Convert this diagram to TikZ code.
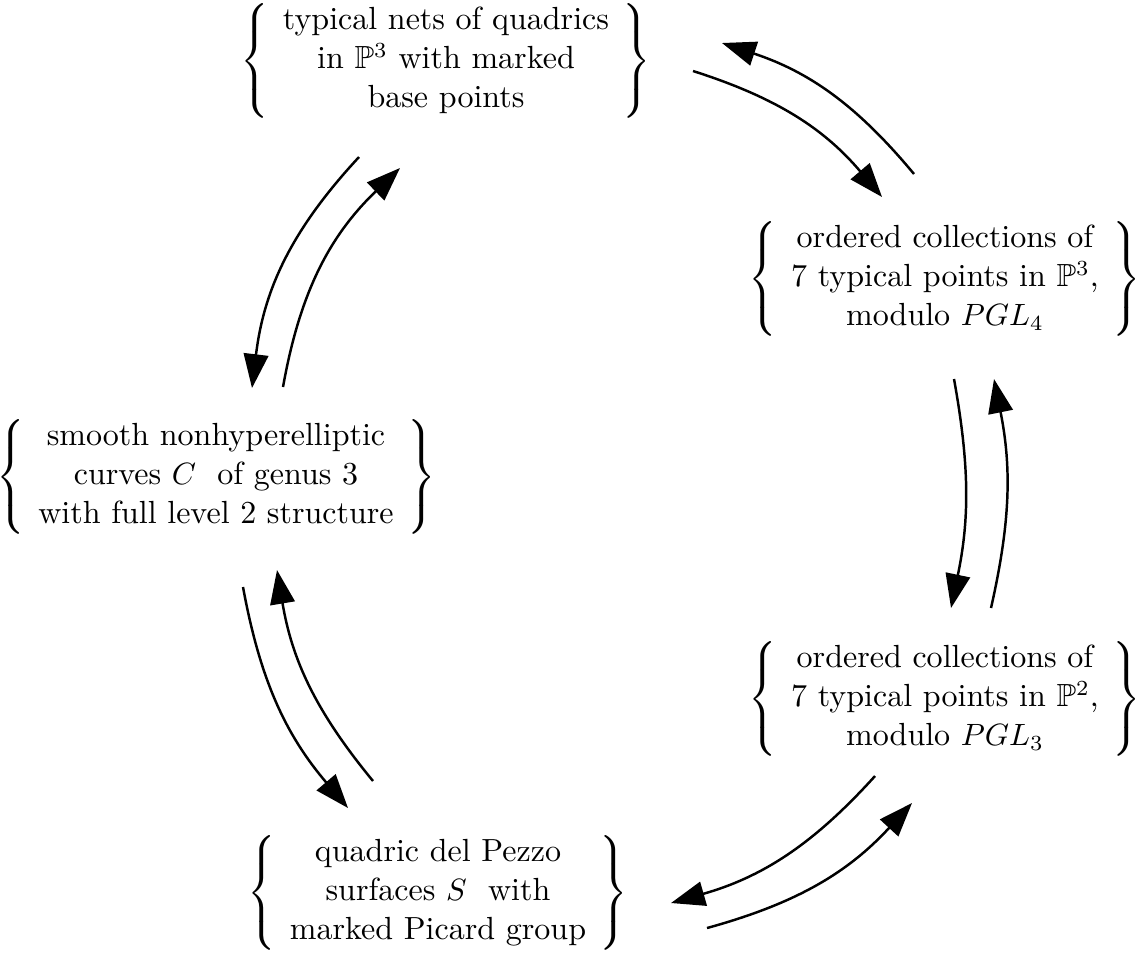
\documentclass[tikz,border=0pt]{standalone}
\usepackage{amssymb}
\usetikzlibrary{arrows.meta}

\setlength{\tabcolsep}{4.5pt}
\newcommand{\menge}[1]{$\left\{\begin{tabular}{c}#1\end{tabular}\right\}$}

\begin{document}
\begin{tikzpicture}[x=0.011416cm, y=0.011416cm, line width=0.8pt,
    every node/.style={inner sep=0pt, font=\fontsize{10.4pt}{12.6pt}\selectfont},
    pfeil/.style={-{Triangle[length=11pt,width=8pt]}}]
    \useasboundingbox (0,0) rectangle (1136,-955);

    % Mengen
    \node (nets) at (446,-61) {\menge{typical nets of quadrics\\ in $\mathbb{P}^3$ with marked\\ base points}};
    \node (pts3) at (945,-279) {\menge{ordered collections of\\ 7 typical points in $\mathbb{P}^3$,\\ modulo $PGL_4$}};
    \node (curves) at (216,-477) {\menge{smooth nonhyperelliptic\\ curves $C$ \ of genus 3\\ with full level 2 structure}};
    \node (pts2) at (945,-699) {\menge{ordered collections of\\ 7 typical points in $\mathbb{P}^2$,\\ modulo $PGL_3$}};
    \node (dp) at (438,-893) {\menge{quadric del Pezzo\\ surfaces $S$ \ with\\ marked Picard group}};

    % Endpunkte der Pfeile
    \coordinate (a1) at (359,-157); \coordinate (a2) at (252,-388);
    \coordinate (b1) at (283,-387); \coordinate (b2) at (400,-168);
    \coordinate (c1) at (693,-71);  \coordinate (c2) at (882,-197);
    \coordinate (d1) at (914,-174); \coordinate (d2) at (722,-43);
    \coordinate (e1) at (954,-379); \coordinate (e2) at (951,-608);
    \coordinate (f1) at (991,-608); \coordinate (f2) at (994,-379);
    \coordinate (g1) at (875,-776); \coordinate (g2) at (671,-903);
    \coordinate (h1) at (707,-928); \coordinate (h2) at (912,-803);
    \coordinate (i1) at (243,-587); \coordinate (i2) at (348,-808);
    \coordinate (j1) at (373,-781); \coordinate (j2) at (277,-570);

    % Pfeile
    \draw[pfeil] (a1) to[bend right=18] (a2);
    \draw[pfeil] (b1) to[bend left=18] (b2);
    \draw[pfeil] (c1) to[bend left=16] (c2);
    \draw[pfeil] (d1) to[bend right=16] (d2);
    \draw[pfeil] (e1) to[bend left=11] (e2);
    \draw[pfeil] (f1) to[bend right=12] (f2);
    \draw[pfeil] (g1) to[bend left=16] (g2);
    \draw[pfeil] (h1) to[bend right=16] (h2);
    \draw[pfeil] (i1) to[bend right=15] (i2);
    \draw[pfeil] (j1) to[bend left=15] (j2);
\end{tikzpicture}
\end{document}
